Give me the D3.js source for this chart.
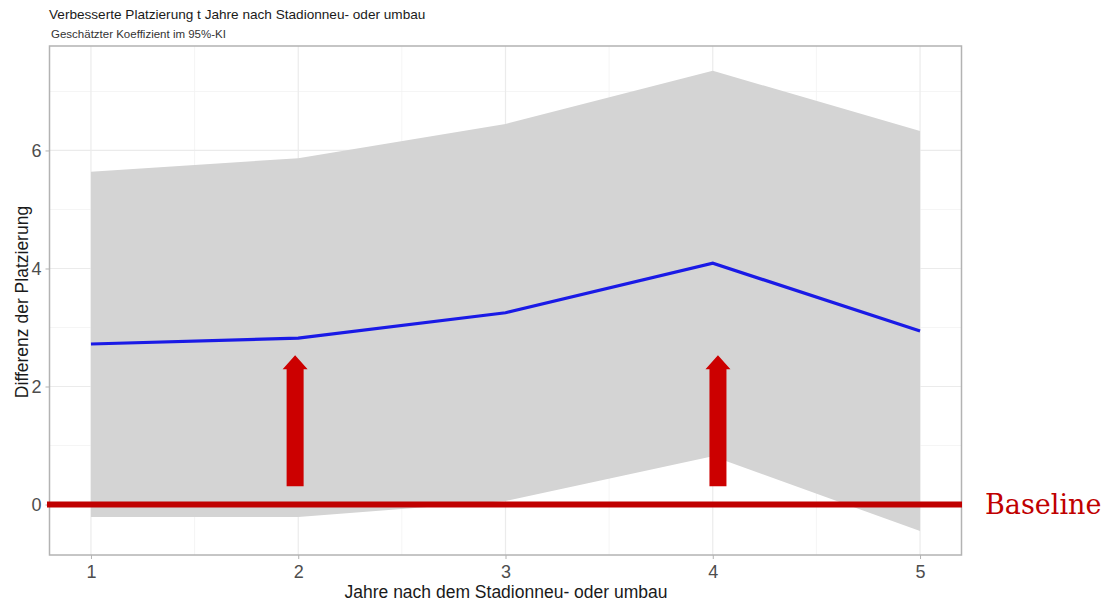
<!DOCTYPE html>
<html>
<head>
<meta charset="utf-8">
<script src="https://cdn.jsdelivr.net/npm/d3@7"></script>
<style>
  body { margin: 0; background: #fff; }
  text { font-family: "Liberation Sans", Arial, sans-serif; }
</style>
</head>
<body>
<svg></svg>
<script>
var years = [1, 2, 3, 4, 5];
var estimate = [2.72, 2.82, 3.25, 4.09, 2.94];
var upper = [5.64, 5.87, 6.45, 7.35, 6.33];
var lower = [-0.21, -0.21, 0.06, 0.82, -0.45];
var xTicks = [1, 2, 3, 4, 5];
var yTicks = [0, 2, 4, 6];
// hand drawn arrows: x position, bottom and tip in data units
var arrows = [
  { x: 1.985, from: 0.31, to: 2.53 },
  { x: 4.025, from: 0.31, to: 2.53 }
];

var svg = d3.select('svg')
   .attr('width', 1117)
   .attr('height', 604)

var x = d3.scaleLinear()
   .domain([0.8, 5.2])
   .range([49.5, 961.5])

var y = d3.scaleLinear()
   .domain([-0.855, 7.77])
   .range([555, 46])

var data = years.map((d, i) => {
   return { yr: d, est: estimate[i], hi: upper[i], lo: lower[i] };
});

// grid
var grid = svg.append('g')
var minorX = d3.range(1.5, 5.2, 1)
var minorY = [1, 3, 5, 7]

grid.selectAll('.minx')
   .data(minorX)
   .enter()
   .append('line')
   .attr('x1', (d) => x(d)).attr('x2', (d) => x(d))
   .attr('y1', 46).attr('y2', 555)
   .attr('stroke', '#f2f2f2')
   .attr('stroke-width', 0.8)

grid.selectAll('.miny')
   .data(minorY)
   .enter()
   .append('line')
   .attr('x1', 49.5).attr('x2', 961.5)
   .attr('y1', (d) => y(d)).attr('y2', (d) => y(d))
   .attr('stroke', '#f2f2f2')
   .attr('stroke-width', 0.8)

grid.selectAll('.majx')
   .data(xTicks)
   .enter()
   .append('line')
   .attr('x1', (d) => x(d)).attr('x2', (d) => x(d))
   .attr('y1', 46).attr('y2', 555)
   .attr('stroke', '#ebebeb')
   .attr('stroke-width', 1.2)

grid.selectAll('.majy')
   .data(yTicks)
   .enter()
   .append('line')
   .attr('x1', 49.5).attr('x2', 961.5)
   .attr('y1', (d) => y(d)).attr('y2', (d) => y(d))
   .attr('stroke', '#ebebeb')
   .attr('stroke-width', 1.2)

// confidence ribbon
var area = d3.area()
   .x((d) => x(d.yr))
   .y0((d) => y(d.lo))
   .y1((d) => y(d.hi))

svg.append('path')
   .datum(data)
   .attr('d', area)
   .attr('fill', '#d4d4d4')

// estimate line
var line = d3.line()
   .x((d) => x(d.yr))
   .y((d) => y(d.est))

svg.append('path')
   .datum(data)
   .attr('d', line)
   .attr('fill', 'none')
   .attr('stroke', '#1a1ae6')
   .attr('stroke-width', 3.2)

// panel border
svg.append('rect')
   .attr('x', 49.5).attr('y', 46)
   .attr('width', 912).attr('height', 509)
   .attr('fill', 'none')
   .attr('stroke', '#b3b3b3')
   .attr('stroke-width', 1.5)

// axes
var xAxis = svg.append('g')
   .attr('transform', 'translate(0,555)')
   .call(d3.axisBottom(x).tickValues(xTicks).tickSize(4).tickPadding(6).tickFormat(d3.format('d')))
xAxis.select('.domain').remove()
xAxis.selectAll('line').attr('stroke', '#b3b3b3')
xAxis.selectAll('text').attr('font-size', 18).attr('fill', '#4d4d4d')
   .style('font-family', '"Liberation Sans", Arial, sans-serif')

var yAxis = svg.append('g')
   .attr('transform', 'translate(49.5,0)')
   .call(d3.axisLeft(y).tickValues(yTicks).tickSize(4).tickPadding(4).tickFormat(d3.format('d')))
yAxis.select('.domain').remove()
yAxis.selectAll('line').attr('stroke', '#b3b3b3')
yAxis.selectAll('text').attr('font-size', 18).attr('fill', '#4d4d4d')
   .style('font-family', '"Liberation Sans", Arial, sans-serif')

// baseline
svg.append('line')
   .attr('x1', 47).attr('x2', 962)
   .attr('y1', y(0)).attr('y2', y(0))
   .attr('stroke', '#c00000')
   .attr('stroke-width', 6)

svg.append('text')
   .attr('x', 985)
   .attr('y', y(0) + 9)
   .attr('fill', '#c00000')
   .attr('font-size', 27)
   .style('font-family', '"DejaVu Serif", "Liberation Serif", serif')
   .text('Baseline')

// arrows
arrows.forEach((a) => {
   var cx = x(a.x), yb = y(a.from), yt = y(a.to);
   var sw = 8.5, hw = 12.5, hh = 14;
   var pts = [
      [cx - sw, yb], [cx - sw, yt + hh], [cx - hw, yt + hh], [cx, yt],
      [cx + hw, yt + hh], [cx + sw, yt + hh], [cx + sw, yb]
   ];
   svg.append('path')
      .attr('d', 'M' + pts.join('L') + 'Z')
      .attr('fill', '#cc0000')
});

// titles
svg.append('text')
   .attr('x', 49).attr('y', 19)
   .attr('font-size', 13.6)
   .attr('fill', '#1a1a1a')
   .text('Verbesserte Platzierung t Jahre nach Stadionneu- oder umbau')

svg.append('text')
   .attr('x', 51).attr('y', 38)
   .attr('font-size', 11.5)
   .attr('fill', '#333')
   .text('Geschätzter Koeffizient im 95%-KI')

svg.append('text')
   .attr('x', 506).attr('y', 598)
   .attr('text-anchor', 'middle')
   .attr('font-size', 17.5)
   .attr('fill', '#1a1a1a')
   .text('Jahre nach dem Stadionneu- oder umbau')

svg.append('text')
   .attr('transform', 'translate(28,' + 302 + ') rotate(-90)')
   .attr('text-anchor', 'middle')
   .attr('font-size', 17.5)
   .attr('fill', '#1a1a1a')
   .text('Differenz der Platzierung')
</script>
</body>
</html>
